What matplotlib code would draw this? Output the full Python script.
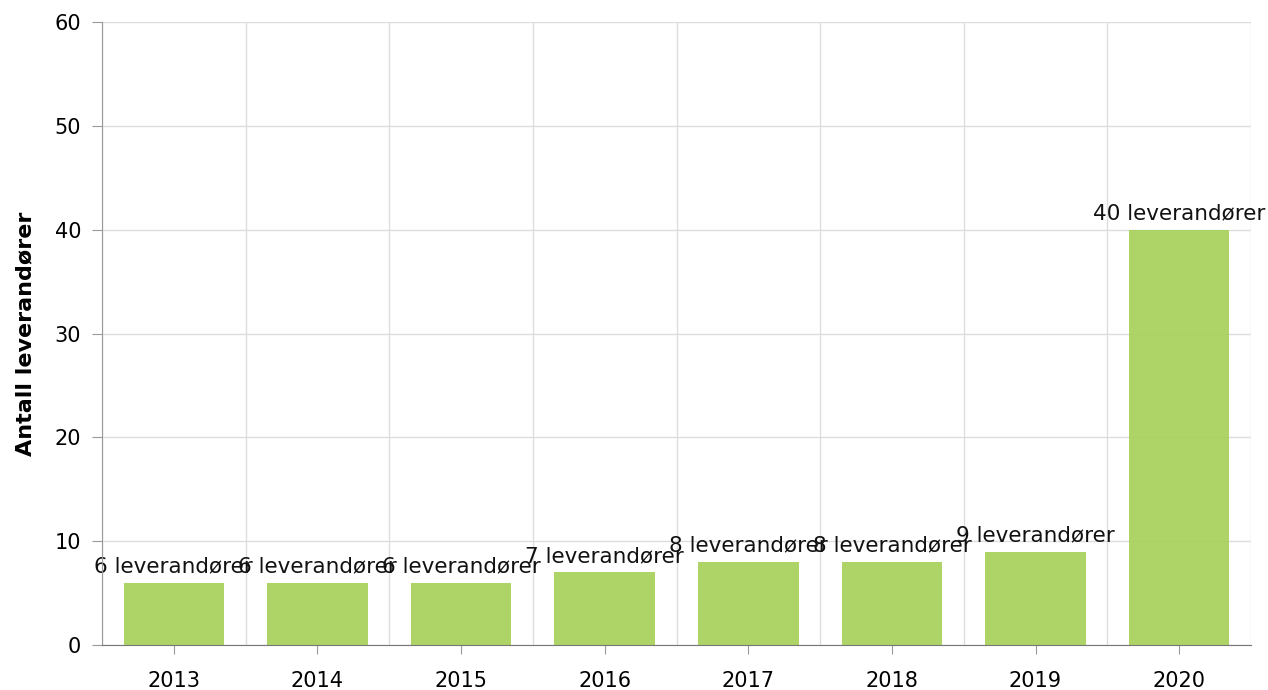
import numpy as np
import matplotlib

matplotlib.use("Agg")
import matplotlib.pyplot as plt

plt.rcParams.update({"font.family": "DejaVu Sans", "font.size": 15})

# data
years = ["2013", "2014", "2015", "2016", "2017", "2018", "2019", "2020"]
counts = [6, 6, 6, 7, 8, 8, 9, 40]
labels = [f"{c} leverandører" for c in counts]

fig = plt.figure(figsize=(12.68, 6.9), dpi=100)
ax = fig.add_axes([102 / 1268, 45 / 690, 1149 / 1268, 623 / 690])

x = np.arange(len(years))
ax.bar(x, counts, width=0.7, color="#a5d057", alpha=0.9, zorder=2)

# value labels above the bars
for xi, c, lab in zip(x, counts, labels):
    ax.text(xi, c + 0.6, lab, ha="center", va="bottom", fontsize=15.5, color="#111111", zorder=3)

ax.set_xlim(-0.5, len(years) - 0.5)
ax.set_ylim(0, 60)
ax.set_xticks(x)
ax.set_xticklabels(years)
ax.set_xticks(np.arange(len(years) + 1) - 0.5, minor=True)
ax.set_yticks(np.arange(0, 61, 10))

ax.grid(True, which="minor", axis="x", color="#dddddd", lw=1, zorder=0)
ax.grid(True, which="major", axis="y", color="#dddddd", lw=1, zorder=0)
ax.tick_params(axis="x", which="minor", length=0)
ax.tick_params(axis="x", which="major", length=6.5, color="#999999", pad=12)
ax.tick_params(axis="y", length=7, color="#999999", pad=8)

for s in ["top", "right"]:
    ax.spines[s].set_visible(False)
ax.spines["left"].set_color("#999999")
ax.spines["bottom"].set_color("#777777")
ax.spines["left"].set_zorder(4)
ax.spines["bottom"].set_zorder(4)

ax.set_ylabel("Antall leverandører", fontweight="bold", fontsize=16, labelpad=14)

fig.savefig("out.png", dpi=100)
